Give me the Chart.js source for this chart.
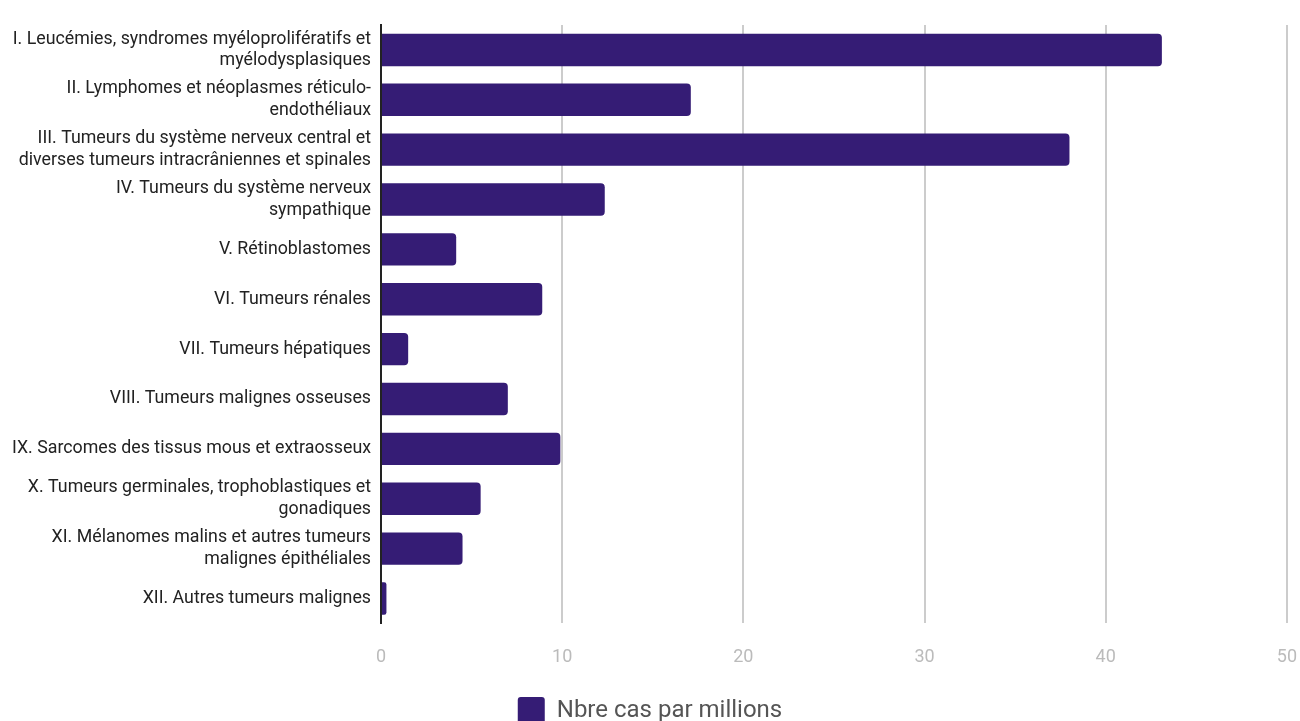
<!DOCTYPE html>
<html>
<head>
<meta charset="utf-8">
<script src="https://cdn.jsdelivr.net/npm/chart.js@4.4.1/dist/chart.umd.min.js"></script>
<style>
  html, body { margin: 0; padding: 0; background: #fff; }
  #wrap { width: 1300px; height: 721px; }
</style>
</head>
<body>
<div id="wrap"><canvas id="chart"></canvas></div>
<script>
// --- DATA ---
const categories = [
    ["I. Leucémies, syndromes myéloprolifératifs et", "myélodysplasiques"],
    ["II. Lymphomes et néoplasmes réticulo-", "endothéliaux"],
    ["III. Tumeurs du système nerveux central et", "diverses tumeurs intracrâniennes et spinales"],
    ["IV. Tumeurs du système nerveux", "sympathique"],
    "V. Rétinoblastomes",
    "VI. Tumeurs rénales",
    "VII. Tumeurs hépatiques",
    "VIII. Tumeurs malignes osseuses",
    "IX. Sarcomes des tissus mous et extraosseux",
    ["X. Tumeurs germinales, trophoblastiques et", "gonadiques"],
    ["XI. Mélanomes malins et autres tumeurs", "malignes épithéliales"],
    "XII. Autres tumeurs malignes"
];
const casesPerMillion = [43.1, 17.1, 38.0, 12.35, 4.15, 8.9, 1.5, 7.0, 9.9, 5.5, 4.5, 0.3];
const seriesLabel = "Nbre cas par millions";

const BAR_COLOR = "#351c75";

const ctx = document.getElementById("chart").getContext("2d");
new Chart(ctx, {
    type: "bar",
    data: {
        labels: categories,
        datasets: [{
            label: seriesLabel,
            data: casesPerMillion,
            backgroundColor: BAR_COLOR,
            borderRadius: 4,
            borderSkipped: "start",
            barPercentage: 0.65,
            categoryPercentage: 1.0
        }]
    },
    options: {
        indexAxis: "y",
        responsive: true,
        maintainAspectRatio: false,
        animation: false,
        // negative bottom padding pulls the legend to the bottom edge
        layout: { padding: { top: 25, right: 0, left: 0, bottom: -13 } },
        plugins: {
            tooltip: { enabled: false },
            legend: {
                position: "bottom",
                labels: {
                    boxWidth: 27,
                    boxHeight: 27,
                    useBorderRadius: true,
                    borderRadius: 3,
                    padding: 3,
                    color: "#555",
                    font: { family: "Roboto", size: 24 }
                }
            }
        },
        scales: {
            x: {
                min: 0,
                max: 50,
                ticks: {
                    stepSize: 10,
                    color: "#bbb",
                    padding: 3,
                    font: { family: "Roboto", size: 18 }
                },
                // invisible tick marks push the labels down without shrinking the plot width
                grid: { color: "#ccc", lineWidth: 2, drawTicks: true, tickLength: 20, tickColor: "rgba(0,0,0,0)" },
                border: { display: false },
                afterFit: (scale) => { scale.height += 23; }
            },
            y: {
                ticks: {
                    color: "#222",
                    padding: 2,
                    font: { family: "Roboto", size: 17.8, lineHeight: 1.22 }
                },
                grid: { display: false },
                border: { color: "#222", width: 2 },
                afterFit: (scale) => { scale.width = 381; }
            }
        }
    }
});
</script>
</body>
</html>
